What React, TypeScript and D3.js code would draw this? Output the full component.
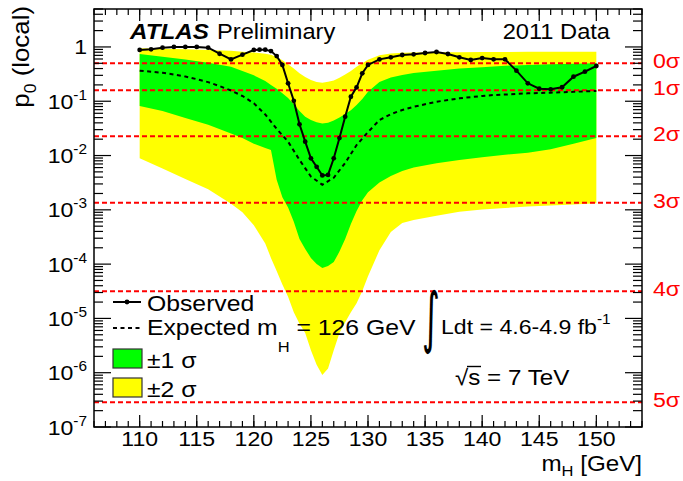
import React from "react";
import * as d3 from "d3";

// ---------- data ----------
const obsMass = [110,111,112,113,114,115,116,117,118,119,120,120.5,121,121.5,122,122.5,123,123.5,124,124.5,125,125.5,126,126.5,127,127.5,128,128.5,129,129.5,130,131,132,133,134,135,136,137,138,139,140,141,142,143,144,145,146,147,148,149,150];
const obsP0 = [0.88,0.906,0.97,1.0,1.0,1.0,0.97,0.75,0.59,0.72,0.88,0.89,0.89,0.84,0.68,0.465,0.214,0.102,0.0376,0.018,0.0089,0.0062,0.0043,0.0044,0.0089,0.021,0.052,0.121,0.18,0.327,0.466,0.59,0.644,0.71,0.732,0.774,0.807,0.742,0.644,0.575,0.625,0.592,0.592,0.366,0.214,0.17,0.166,0.181,0.283,0.35,0.446];

const expMass = [110,111,112,113,114,115,116,117,118,119,120,121,122,123,124,125,126,127,128,129,130,131,132,133,134,135,136,137,138,139,140,141,142,143,144,145,146,147,148,149,150];
const expP0 = [0.366,0.35,0.335,0.31,0.285,0.255,0.225,0.19,0.158,0.125,0.092,0.057,0.031,0.018,0.0083,0.0041,0.0029,0.0039,0.0073,0.0156,0.027,0.045,0.058,0.069,0.079,0.088,0.098,0.105,0.113,0.119,0.125,0.13,0.133,0.136,0.14,0.142,0.144,0.146,0.149,0.152,0.155];

const bandMass = [110,112,114,116,118,119,120,121,121.5,122,122.5,123,123.5,124,124.5,125,125.5,126,126.5,127,127.5,128,128.5,129,129.5,130,131,132,133,134,136,138,140,142,144,146,148,150];
const green1Lo = [0.082,0.066,0.049,0.037,0.0255,0.021,0.0165,0.0138,0.0126,0.0036,0.0017,0.0011,6e-4,2.9e-4,1.9e-4,1.3e-4,1.0e-4,8.5e-5,9.2e-5,1.09e-4,1.7e-4,2.9e-4,5.5e-4,9.5e-4,1.5e-3,2.1e-3,3.2e-3,4.2e-3,5.2e-3,6.0e-3,7.2e-3,8.3e-3,9.3e-3,1.03e-2,1.13e-2,1.3e-2,1.65e-2,2.1e-2];
const green1Hi = [0.74,0.66,0.59,0.51,0.43,0.36,0.30,0.235,0.20,0.17,0.14,0.115,0.088,0.066,0.052,0.045,0.041,0.039,0.040,0.044,0.050,0.058,0.068,0.085,0.11,0.15,0.225,0.275,0.305,0.33,0.365,0.40,0.425,0.45,0.465,0.48,0.49,0.50];
const yellow2Lo = [0.0089,0.0058,0.0037,0.0024,0.0013,9e-4,5.2e-4,2.4e-4,1.3e-4,7.5e-5,4.2e-5,2.5e-5,1.3e-5,8e-6,5.4e-6,2.6e-6,1.4e-6,9.1e-7,1.2e-6,2.6e-6,5.4e-6,8.5e-6,1.3e-5,1.9e-5,3.2e-5,6e-5,1.8e-4,3.9e-4,5.7e-4,6.5e-4,7.8e-4,9.2e-4,1.01e-3,1.08e-3,1.15e-3,1.2e-3,1.26e-3,1.32e-3];
const yellow2Hi = [0.95,0.93,0.91,0.88,0.85,0.82,0.79,0.75,0.72,0.65,0.57,0.48,0.40,0.327,0.28,0.245,0.225,0.22,0.228,0.24,0.27,0.31,0.36,0.43,0.50,0.58,0.70,0.76,0.78,0.79,0.80,0.80,0.81,0.81,0.815,0.82,0.82,0.82];

const sigmaLabels = ["0σ","1σ","2σ","3σ","4σ","5σ"];
const sigmaP0 = [0.5,0.1587,0.02275,0.00135,3.17e-5,2.87e-7];

const xMajorTicks = [110,115,120,125,130,135,140,145,150];
const yDecades = [-7,-6,-5,-4,-3,-2,-1,0];

// ---------- layout ----------
const W = 683, H = 481;
const L = 94, R = 642, T = 9, B = 427;
const FONT = "'Liberation Sans', Arial, Helvetica, sans-serif";
const SX = 1.1;

const x = d3.scaleLinear().domain([106, 154]).range([L, R]);
const y = d3.scaleLog().domain([1e-7, 5]).range([B, T]);

function Txt({ x: px, y: py, size, anchor = "start", fill = "#000", weight = "normal", italic = false, children }: any) {
  return (
    <text transform={`translate(${px},${py}) scale(${SX},1)`} fontSize={size} textAnchor={anchor}
      fill={fill} fontWeight={weight} fontStyle={italic ? "italic" : "normal"} fontFamily={FONT}>
      {children}
    </text>
  );
}

export default function App() {
  const band = (lo: number[], hi: number[]) =>
    d3.area<number>()
      .x((_, i) => x(bandMass[i]))
      .y0((_, i) => y(lo[i]))
      .y1((_, i) => y(hi[i]))(bandMass.map((_, i) => i)) || "";

  const obsLine = d3.line<number>().x((_, i) => x(obsMass[i])).y((d) => y(d))(obsP0) || "";
  const expLine = d3.line<number>().x((_, i) => x(expMass[i])).y((d) => y(d))(expP0) || "";

  const xMinor = d3.range(106, 155, 1);
  const yMinor: number[] = [];
  yDecades.forEach((d) => {
    for (let k = 2; k <= 9; k++) {
      const v = k * Math.pow(10, d);
      if (v <= 5) yMinor.push(v);
    }
  });

  return (
    <svg width={W} height={H} style={{ position: "absolute", left: 0, top: 0, background: "#fff" }}>
      <rect x={0} y={0} width={W} height={H} fill="#fff" />
      {/* bands */}
      <path d={band(yellow2Lo, yellow2Hi)} fill="#ffff00" />
      <path d={band(green1Lo, green1Hi)} fill="#00ff00" />

      {/* sigma lines */}
      {sigmaP0.map((p, i) => (
        <line key={"s" + i} x1={L} x2={R} y1={y(p)} y2={y(p)} stroke="#ff0000" strokeWidth={2} strokeDasharray="5 3" />
      ))}

      {/* expected & observed */}
      <path d={expLine} fill="none" stroke="#000" strokeWidth={2} strokeDasharray="4 3.5" />
      <path d={obsLine} fill="none" stroke="#000" strokeWidth={2} />
      {obsP0.map((p, i) => (
        <circle key={"o" + i} cx={x(obsMass[i])} cy={y(p)} r={2.4} fill="#000" />
      ))}

      {/* frame */}
      <rect x={L} y={T} width={R - L} height={B - T} fill="none" stroke="#000" strokeWidth={1.5} />

      {/* x ticks */}
      {xMinor.map((m) => (
        <g key={"xm" + m}>
          <line x1={x(m)} x2={x(m)} y1={B} y2={B - 6} stroke="#000" strokeWidth={1.2} />
          <line x1={x(m)} x2={x(m)} y1={T} y2={T + 6} stroke="#000" strokeWidth={1.2} />
        </g>
      ))}
      {xMajorTicks.map((m) => (
        <g key={"xM" + m}>
          <line x1={x(m)} x2={x(m)} y1={B} y2={B - 12} stroke="#000" strokeWidth={1.2} />
          <line x1={x(m)} x2={x(m)} y1={T} y2={T + 12} stroke="#000" strokeWidth={1.2} />
          <Txt x={x(m)} y={446} size={21} anchor="middle">{m}</Txt>
        </g>
      ))}

      {/* y ticks */}
      {yMinor.map((v, i) => (
        <g key={"ym" + i}>
          <line x1={L} x2={L + 9} y1={y(v)} y2={y(v)} stroke="#000" strokeWidth={1.2} />
          <line x1={R} x2={R - 9} y1={y(v)} y2={y(v)} stroke="#000" strokeWidth={1.2} />
        </g>
      ))}
      {yDecades.map((d) => {
        const v = Math.pow(10, d);
        return (
          <g key={"yM" + d}>
            <line x1={L} x2={L + 17} y1={y(v)} y2={y(v)} stroke="#000" strokeWidth={1.2} />
            <line x1={R} x2={R - 17} y1={y(v)} y2={y(v)} stroke="#000" strokeWidth={1.2} />
            {d === 0 ? (
              <Txt x={87} y={y(v) + 7.5} size={21} anchor="end">1</Txt>
            ) : (
              <Txt x={87} y={y(v) + 7.5} size={21} anchor="end">
                10<tspan fontSize={14} dy={-9}>{String(d)}</tspan>
              </Txt>
            )}
          </g>
        );
      })}

      {/* sigma labels */}
      {sigmaP0.map((p, i) => (
        <Txt key={"sl" + i} x={653} y={y(p) + 5} size={21} fill="#ff0000">{sigmaLabels[i]}</Txt>
      ))}

      {/* axis titles */}
      <text transform={`translate(29,6) rotate(-90) scale(${SX},1)`} fontSize={23.5} textAnchor="end" fontFamily={FONT}>
        p<tspan fontSize={16} dy={7}>0</tspan><tspan dy={-7}> (local)</tspan>
      </text>
      <Txt x={R} y={471} size={22} anchor="end">
        m<tspan fontSize={15} dy={5}>H</tspan><tspan dy={-5}> [GeV]</tspan>
      </Txt>

      {/* header */}
      <Txt x={130} y={39} size={22} weight="bold" italic>ATLAS</Txt>
      <Txt x={217} y={39} size={21.5}>Preliminary</Txt>
      <Txt x={610} y={39} size={21.5} anchor="end">2011 Data</Txt>

      {/* legend */}
      <line x1={113} x2={141} y1={302} y2={302} stroke="#000" strokeWidth={2} />
      <circle cx={127} cy={302} r={2.4} fill="#000" />
      <Txt x={147} y={311} size={22.5}>Observed</Txt>
      <line x1={113} x2={141} y1={328} y2={328} stroke="#000" strokeWidth={2} strokeDasharray="4 3.5" />
      <Txt x={147} y={335} size={22.5}>
        Expected m<tspan fontSize={15} dy={17}>H</tspan><tspan dy={-17}> = 126 GeV</tspan>
      </Txt>
      <rect x={113} y={349} width={29} height={19} fill="#00ff00" stroke="#333" strokeWidth={1.2} />
      <Txt x={147} y={368} size={22.5}>±1 σ</Txt>
      <rect x={113} y={378} width={29} height={19} fill="#ffff00" stroke="#333" strokeWidth={1.2} />
      <Txt x={147} y={397} size={22.5}>±2 σ</Txt>

      {/* lumi / energy */}
      <text transform="translate(422,340) scale(0.9,1.75)" fontSize={38} fontFamily="'DejaVu Sans', sans-serif">∫</text>
      <Txt x={441} y={334} size={21}>
        Ldt = 4.6-4.9 fb<tspan fontSize={14} dy={-10}>-1</tspan>
      </Txt>
      <Txt x={455} y={385} size={22}>√s = 7 TeV</Txt>
      <line x1={467} x2={481} y1={366.5} y2={366.5} stroke="#000" strokeWidth={1.4} />
    </svg>
  );
}
